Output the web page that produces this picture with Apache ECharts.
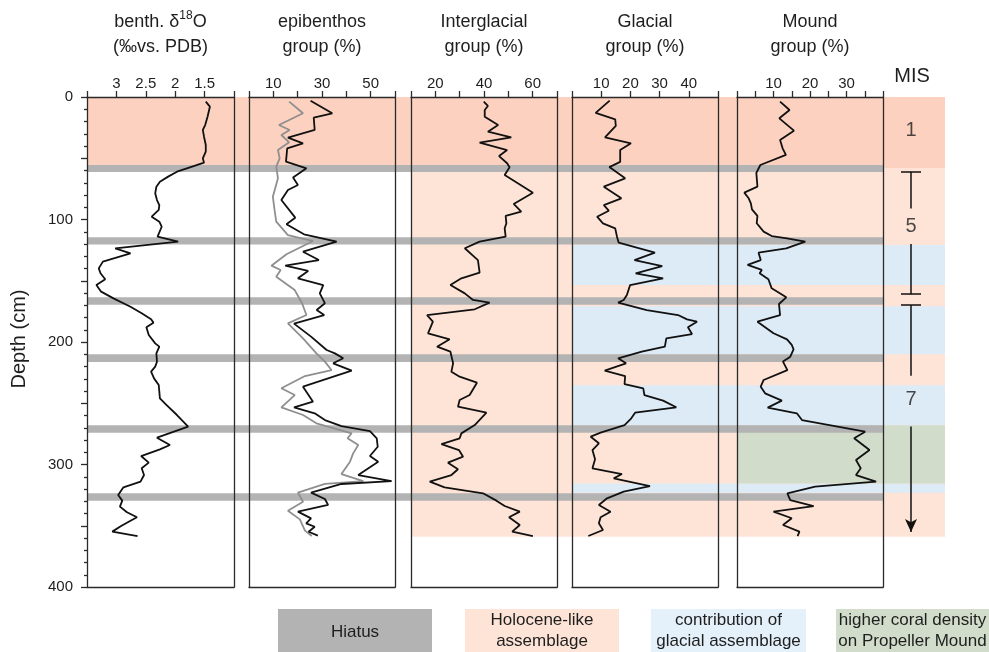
<!DOCTYPE html>
<html><head><meta charset="utf-8">
<script src="https://cdn.jsdelivr.net/npm/echarts@6/dist/echarts.min.js"></script>
<style>html,body{margin:0;padding:0;background:#fff}#c{width:989px;height:652px}</style>
</head><body><div id="c"></div>
<script>
// ---------------- DATA ----------------
// each point: [value, depth (cm)]
const d18O = [[1.48,3.8],[1.41,7.9],[1.45,16.1],[1.49,22.9],[1.53,26.9],[1.51,32.4],[1.48,39.2],[1.48,44.6],[1.53,50.1],[1.51,53.6],[1.75,57.4],[1.97,61.0],[2.12,65.0],[2.26,69.1],[2.32,73.2],[2.34,78.6],[2.31,84.1],[2.27,88.2],[2.28,92.2],[2.40,97.7],[2.27,101.8],[2.23,105.9],[2.30,114.0],[1.95,118.1],[3.02,123.5],[2.76,127.6],[3.23,134.4],[3.30,139.9],[3.27,143.9],[3.19,148.8],[3.34,153.5],[3.26,158.9],[3.05,164.4],[2.76,171.2],[2.57,176.6],[2.41,181.5],[2.37,184.2],[2.49,188.0],[2.45,194.3],[2.34,201.1],[2.27,203.8],[2.32,209.3],[2.31,216.1],[2.34,220.1],[2.41,224.2],[2.36,229.7],[2.28,235.1],[2.27,240.5],[2.26,246.0],[2.15,251.4],[1.97,259.6],[1.78,269.1],[2.31,278.1],[2.09,284.1],[2.26,287.6],[2.58,293.1],[2.45,298.5],[2.57,303.1],[2.53,308.6],[2.59,314.0],[2.88,318.6],[2.97,324.9],[2.90,329.5],[2.94,334.4],[2.82,339.0],[2.65,343.1],[2.76,345.9],[2.92,350.2],[3.07,354.8],[2.64,358.4]];
const epiBlack = [[25.3,3.0],[34.2,13.3],[26.6,16.9],[27.0,26.9],[16.0,33.2],[22.2,37.8],[15.7,41.9],[15.2,52.8],[23.6,58.2],[18.1,65.8],[20.1,71.8],[16.0,75.9],[13.3,84.1],[19.0,98.5],[15.4,103.9],[22.6,112.1],[36.0,118.1],[22.2,126.3],[28.7,133.1],[14.9,137.7],[24.3,142.0],[20.1,148.0],[30.5,153.5],[29.1,160.3],[31.2,168.4],[27.8,173.9],[30.9,178.0],[18.5,185.0],[25.5,195.6],[31.9,206.5],[35.3,209.3],[38.7,213.3],[34.6,217.4],[42.2,223.4],[22.2,236.5],[26.3,248.7],[18.5,253.3],[27.0,258.2],[31.2,263.7],[38.0,268.6],[49.7,272.7],[52.5,278.6],[52.9,285.5],[49.7,293.1],[53.1,297.7],[44.9,308.6],[58.6,313.5],[38.0,315.9],[25.5,323.0],[31.2,328.2],[32.5,333.0],[20.1,338.5],[25.5,344.0],[23.5,348.0],[27.0,350.8],[24.5,354.9],[28.3,358.1]];
const epiGray = [[16.5,3.8],[22.2,13.3],[12.3,22.9],[16.7,26.9],[13.3,31.0],[16.5,37.0],[11.9,43.3],[12.6,50.1],[11.2,56.9],[11.9,66.4],[9.8,81.4],[10.5,92.2],[11.2,101.8],[16.0,112.7],[26.3,117.6],[15.4,128.4],[9.2,137.7],[13.0,141.2],[11.2,146.7],[18.8,157.6],[21.8,168.4],[23.6,178.0],[16.0,184.8],[22.2,197.0],[27.7,209.3],[31.2,216.0],[33.9,222.9],[23.0,227.8],[13.3,237.8],[18.8,243.3],[13.3,253.3],[22.2,259.6],[27.7,266.4],[42.2,274.5],[40.5,278.6],[44.9,284.1],[42.8,290.9],[41.5,297.7],[38.0,307.8],[47.0,313.5],[31.2,315.9],[20.1,323.0],[22.2,330.4],[16.0,337.7],[20.9,344.8],[23.0,354.0],[25.8,358.4]];
const interglacial = [[39.9,3.8],[41.6,7.3],[40.3,10.6],[40.3,16.1],[45.8,22.9],[41.6,28.3],[51.2,32.9],[38.2,37.3],[49.5,43.3],[46.2,48.2],[49.5,54.1],[50.5,57.4],[48.5,63.7],[60.1,78.1],[52.2,87.3],[55.3,93.6],[48.9,97.1],[49.2,103.1],[48.5,107.2],[48.9,114.0],[38.2,118.1],[32.1,123.5],[37.5,133.1],[38.2,143.4],[30.7,148.0],[26.2,153.5],[32.1,160.3],[35.5,165.7],[42.3,167.9],[36.2,173.3],[16.6,178.0],[19.0,183.4],[17.0,192.9],[25.9,197.8],[20.7,203.8],[26.2,207.9],[27.3,217.4],[26.6,224.2],[30.0,228.3],[37.1,233.2],[34.1,243.3],[30.0,247.3],[29.3,252.8],[41.0,257.7],[36.2,267.8],[30.7,274.6],[30.0,278.6],[22.5,283.3],[29.7,288.2],[31.4,293.6],[25.2,298.5],[29.3,303.9],[26.6,308.6],[17.7,314.0],[23.8,318.6],[39.6,323.5],[45.1,329.5],[48.5,333.9],[54.7,338.5],[50.3,343.1],[54.7,349.4],[51.6,354.8],[60.1,358.4]];
const glacial = [[12.9,3.0],[8.1,13.0],[14.8,18.2],[15.0,23.5],[11.3,32.9],[20.2,37.8],[16.5,43.3],[16.5,53.0],[12.8,57.2],[18.2,66.4],[10.9,73.2],[16.9,82.7],[10.9,88.2],[12.6,92.8],[8.6,97.7],[10.6,103.1],[14.8,107.2],[15.4,114.0],[16.0,118.9],[28.4,127.1],[21.4,133.1],[30.9,138.0],[21.8,143.9],[31.2,148.0],[19.9,153.5],[18.8,161.6],[17.7,165.7],[15.8,167.9],[25.6,173.9],[36.3,178.0],[39.4,181.5],[42.8,183.4],[39.7,188.0],[41.1,193.5],[32.3,197.0],[31.8,203.8],[23.9,207.9],[15.8,213.3],[18.5,217.4],[11.2,223.4],[18.2,227.8],[18.0,234.3],[24.4,237.8],[24.8,243.3],[31.2,247.9],[35.7,253.3],[21.6,257.7],[20.3,262.3],[18.0,267.8],[9.8,274.0],[6.4,277.3],[9.2,282.7],[7.0,288.2],[7.9,295.8],[7.0,303.1],[17.1,307.8],[14.3,311.3],[26.7,317.6],[17.7,322.2],[12.0,327.6],[9.2,333.1],[13.2,338.5],[9.8,343.1],[9.2,348.0],[10.6,353.5],[5.6,358.4]];
const mound = [[11.8,3.8],[14.4,10.6],[11.6,17.4],[15.6,27.5],[11.8,35.1],[12.5,41.9],[13.4,47.3],[6.4,55.5],[5.3,62.0],[5.6,73.2],[2.0,78.1],[3.2,82.7],[3.8,86.8],[4.1,91.7],[5.6,97.1],[5.4,103.1],[7.3,109.9],[9.5,113.5],[13.7,115.4],[18.7,118.1],[13.5,123.5],[5.9,127.1],[6.5,133.1],[2.9,137.1],[6.8,141.2],[6.2,143.9],[8.6,148.8],[9.5,156.2],[13.5,163.5],[11.5,169.0],[11.8,178.0],[5.6,183.4],[10.0,192.9],[13.7,197.8],[15.0,202.4],[15.5,206.0],[14.6,212.0],[12.6,216.0],[13.8,222.9],[7.3,231.0],[6.5,236.5],[7.7,241.9],[12.3,247.9],[8.4,253.6],[16.4,258.2],[17.8,263.7],[35.1,273.2],[32.1,278.6],[36.3,288.2],[32.6,296.3],[33.9,303.1],[32.6,308.6],[38.1,314.0],[21.4,318.1],[13.8,323.5],[14.6,329.0],[21.0,333.9],[10.0,338.5],[15.0,343.9],[12.6,349.4],[17.1,354.8],[16.6,358.4]];

// tick labels shown on the top axes
const d18OTicks = [3, 2.5, 2, 1.5];
const epiTicks = [10, 30, 50];
const interTicks = [20, 40, 60];
const glacialTicks = [10, 20, 30, 40];
const moundTicks = [10, 20, 30];
const depthTicks = [0, 100, 200, 300, 400];

// depth intervals (cm)
const hiatusBands = [[55.5,61.2],[114.5,120.5],[163.5,169.5],[210,216.3],[268,274],[323.5,329.5]];
const holoceneStrong = [[0,58]];
const holoceneLight = [[58,359]];
const glacialContrib = [[120.8,153.5],[170.8,210],[235.4,268],[315.5,323]];
const coralDensity = [[268,315.5]];

// MIS column
const misLabels = ['1','5','7'];
const misLabelDepth = [27.5,105.5,247];
const misBars = [[61,91],[120,161],[169.8,227.5]];
const misCaps = [61,161,169.8];
const misArrow = [269,355];

// ---------------- LAYOUT ----------------
const FONT = '"Liberation Sans", Arial, Helvetica, sans-serif';
const TXT = '#1e1e1e';
const TOP = 97, H = 490;
const BG_L = 87, BG_R = 945;
const X_LIGHT = 411, X_BLUE = 572, X_GREEN = 737, X_HIATUS_R = 883, X_MIS = 911, CAP_W = 10;

const panels = [
  {left:87, width:147, min:1, max:3.5, interval:0.5, inverse:true, labels:d18OTicks, title:'benth. δ{sup|18}O\n(‰vs. PDB)'},
  {left:249, width:146, min:0, max:60, interval:10, labels:epiTicks, title:'epibenthos\ngroup (%)'},
  {left:411, width:146, min:10, max:70, interval:10, labels:interTicks, title:'Interglacial\ngroup (%)'},
  {left:572, width:146, min:0, max:50, interval:10, labels:glacialTicks, title:'Glacial\ngroup (%)'},
  {left:737, width:146, min:0, max:40, interval:5, labels:moundTicks, title:'Mound\ngroup (%)'}
];

const lineStyleAxis = {color:'#2a2a2a', width:1.3};
const grid = panels.map(p => ({left:p.left, width:p.width, top:TOP, height:H}));
grid.push({left:BG_L, width:BG_R-BG_L, top:TOP, height:H});
const BGI = panels.length;

const xAxis = [], yAxis = [];
panels.forEach((p, i) => {
  xAxis.push({
    gridIndex:i, type:'value', position:'top', min:p.min, max:p.max, interval:p.interval, inverse:!!p.inverse, z:3,
    axisLine:{show:true, onZero:false, lineStyle:lineStyleAxis},
    axisTick:{show:true, inside:false, length:6, lineStyle:lineStyleAxis},
    axisLabel:{show:true, margin:6, fontSize:15, color:TXT, fontFamily:FONT,
      formatter: v => p.labels.some(l => Math.abs(l - v) < 1e-6) ? String(v) : ''},
    splitLine:{show:false},
    name:p.title, nameLocation:'middle', nameGap:37,
    nameTextStyle:{fontSize:18, color:TXT, fontFamily:FONT, lineHeight:25,
      rich:{sup:{fontSize:12, fontFamily:FONT, color:TXT, verticalAlign:'top', lineHeight:15}}}
  });
  xAxis.push({
    gridIndex:i, type:'value', position:'bottom', min:p.min, max:p.max, inverse:!!p.inverse, z:3,
    axisLine:{show:true, onZero:false, lineStyle:lineStyleAxis},
    axisTick:{show:false}, axisLabel:{show:false}, splitLine:{show:false}
  });
  if (i === 0) {
    yAxis.push({
      gridIndex:i, type:'value', position:'left', inverse:true, min:0, max:400, interval:50, z:3,
      axisLine:{show:true, onZero:false, lineStyle:lineStyleAxis},
      axisTick:{show:true, length:6, lineStyle:lineStyleAxis},
      minorTick:{show:true, splitNumber:5, length:3, lineStyle:lineStyleAxis},
      axisLabel:{fontSize:15, color:TXT, fontFamily:FONT, margin:14,
        formatter: v => depthTicks.includes(v) ? String(v) : ''},
      splitLine:{show:false}, minorSplitLine:{show:false}
    });
  } else {
    yAxis.push({
      gridIndex:i, type:'value', position:'left', inverse:true, min:0, max:400, z:3,
      axisLine:{show:true, onZero:false, lineStyle:lineStyleAxis},
      axisTick:{show:false}, axisLabel:{show:false}, splitLine:{show:false}
    });
  }
  yAxis.push({
    gridIndex:i, type:'value', position:'right', inverse:true, min:0, max:400, z:3,
    axisLine:{show:true, onZero:false, lineStyle:lineStyleAxis},
    axisTick:{show:false}, axisLabel:{show:false}, splitLine:{show:false}
  });
});
// background / MIS grid in page-pixel x units
xAxis.push({gridIndex:BGI, type:'value', min:BG_L, max:BG_R, show:false});
yAxis.push({gridIndex:BGI, type:'value', inverse:true, min:0, max:400, show:false});
const BGX = xAxis.length - 1, BGY = yAxis.length - 1;

const C_DARK = '#fdd1bf', C_LIGHT = '#fee4d7', C_BLUE = '#ddebf7', C_GREEN = '#d1dccb', C_HIATUS = '#b3b3b3';
const band = (arr, x0, x1, color) => arr.map(b => [{coord:[x0, b[0]], itemStyle:{color}}, {coord:[x1, b[1]]}]);

const series = [];
series.push({
  type:'line', xAxisIndex:BGX, yAxisIndex:BGY, data:[], silent:true,
  markArea:{silent:true, z:1, data:[
    ...band(holoceneStrong, BG_L, BG_R, C_DARK),
    ...band(holoceneLight, X_LIGHT, BG_R, C_LIGHT),
    ...band(glacialContrib, X_BLUE, BG_R, C_BLUE),
    ...band(coralDensity, X_GREEN, BG_R, C_GREEN)
  ]}
});
series.push({
  type:'line', xAxisIndex:BGX, yAxisIndex:BGY, data:[], silent:true,
  markArea:{silent:true, z:2, data: band(hiatusBands, BG_L, X_HIATUS_R, C_HIATUS)}
});

const dataLine = (data, i, color) => ({
  type:'line', xAxisIndex:2*i, yAxisIndex:2*i, data, showSymbol:false, symbol:'none', smooth:false,
  z:4, silent:true, lineStyle:{color, width:1.8}, clip:false
});
series.push(dataLine(d18O, 0, '#111'));
series.push(dataLine(epiGray, 1, '#8f8f8f'));
series.push(dataLine(epiBlack, 1, '#111'));
series.push(dataLine(interglacial, 2, '#111'));
series.push(dataLine(glacial, 3, '#111'));
series.push(dataLine(mound, 4, '#111'));

// MIS column marks
const seg = (x0, y0, x1, y1, endSym) => [{coord:[x0, y0], symbol:'none'}, {coord:[x1, y1], symbol:endSym || 'none', symbolSize:[9, 13]}];
const misLines = [
  ...misBars.map(b => seg(X_MIS, b[0], X_MIS, b[1])),
  ...misCaps.map(c => seg(X_MIS - CAP_W, c, X_MIS + CAP_W, c)),
  seg(X_MIS, misArrow[0], X_MIS, misArrow[1], 'arrow')
];
series.push({
  type:'line', xAxisIndex:BGX, yAxisIndex:BGY, data:[], silent:true,
  markLine:{silent:true, z:5, symbol:['none','none'], label:{show:false},
    lineStyle:{color:'#111', width:1.5, type:'solid'}, emphasis:{disabled:true}, data:misLines}
});
series.push({
  type:'scatter', xAxisIndex:BGX, yAxisIndex:BGY, z:5, silent:true, symbolSize:0,
  data: misLabels.map((t, i) => ({value:[X_MIS, misLabelDepth[i]], name:t})),
  label:{show:true, position:'inside', formatter:'{b}', fontSize:20, color:TXT, fontFamily:FONT}
});

// legend boxes (bottom)
const legendItems = [
  {x:278, w:154, color:'#b3b3b3', lines:['Hiatus']},
  {x:465, w:154, color:'#fee4d7', lines:['Holocene-like','assemblage']},
  {x:651, w:155, color:'#e4f0fa', lines:['contribution of','glacial assemblage']},
  {x:836, w:153, color:'#d1dccb', lines:['higher coral density','on Propeller Mound']}
];
const graphic = [];
legendItems.forEach(it => {
  graphic.push({type:'rect', shape:{x:it.x, y:609, width:it.w, height:50}, style:{fill:it.color}, silent:true});
  const ys = it.lines.length === 1 ? [632] : [620, 641];
  it.lines.forEach((t, k) => graphic.push({type:'text', x:it.x + it.w/2, y:ys[k],
    style:{text:t, fontSize:17, fontFamily:FONT, fill:TXT, textAlign:'center', textVerticalAlign:'middle'}, silent:true}));
});
graphic.push({type:'text', x:912, y:76, style:{text:'MIS', fontSize:20, fontFamily:FONT, fill:TXT, textAlign:'center', textVerticalAlign:'middle'}, silent:true});
graphic.push({type:'text', x:19, y:339, rotation:Math.PI/2, style:{text:'Depth (cm)', fontSize:20, fontFamily:FONT, fill:TXT, textAlign:'center', textVerticalAlign:'middle'}, silent:true});

const chart = echarts.init(document.getElementById('c'), null, {renderer:'canvas'});
chart.setOption({animation:false, backgroundColor:'#fff', grid, xAxis, yAxis, series, graphic, tooltip:{show:false}});
</script></body></html>
